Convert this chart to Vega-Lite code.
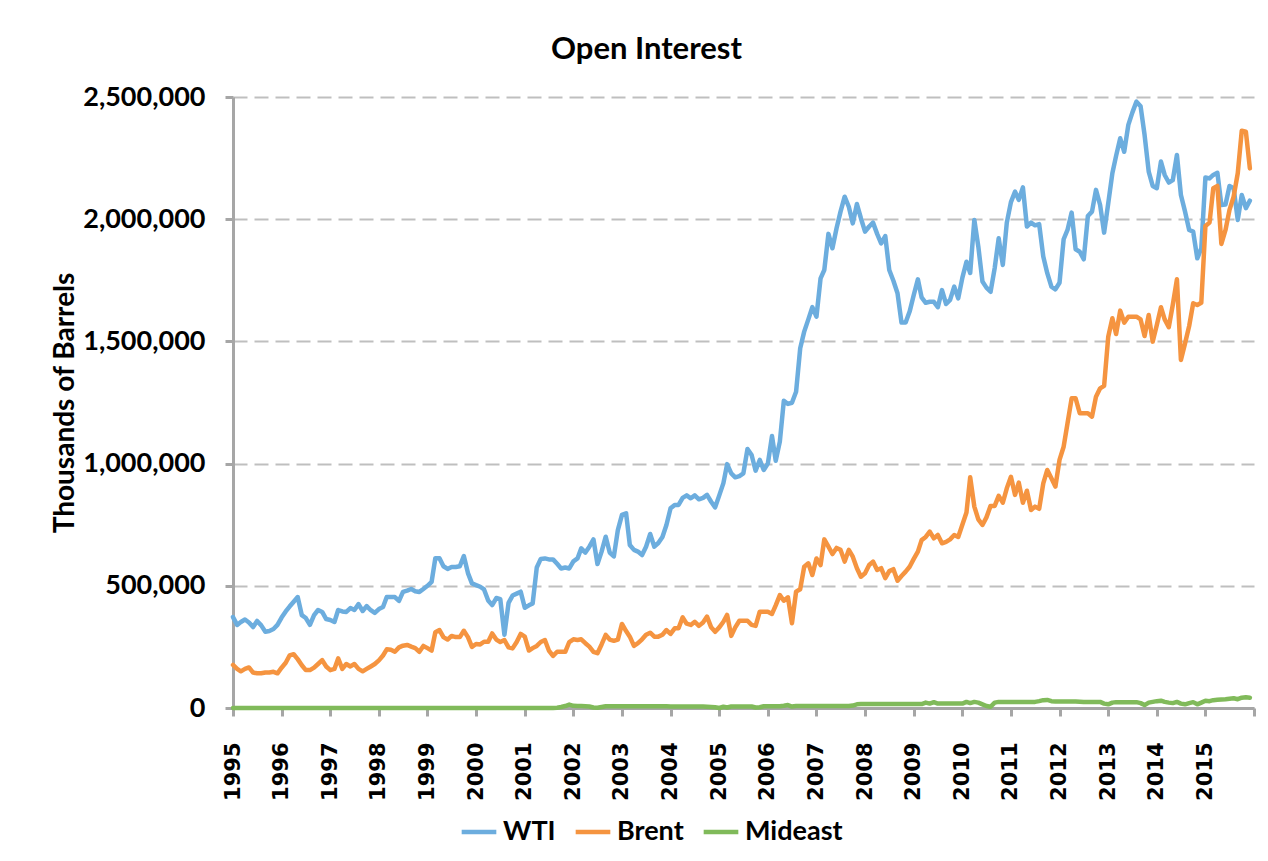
{
  "$schema": "https://vega.github.io/schema/vega-lite/v6.json",
  "width": 1021,
  "height": 611,
  "autosize": {"type": "none"},
  "padding": {"left": 233, "top": 97, "right": 14, "bottom": 153},
  "background": "white",
  "title": {"text": "Open Interest", "font": "Lato", "fontSize": 31, "fontWeight": "bold", "color": "black", "anchor": "middle", "dx": -97, "offset": 17},
  "data": {"values": [
{"d":"1995-01","WTI":372000,"Brent":176000,"Mideast":0},
{"d":"1995-02","WTI":340000,"Brent":160000,"Mideast":0},
{"d":"1995-03","WTI":352000,"Brent":150000,"Mideast":0},
{"d":"1995-04","WTI":362000,"Brent":160000,"Mideast":0},
{"d":"1995-05","WTI":350000,"Brent":166000,"Mideast":0},
{"d":"1995-06","WTI":331000,"Brent":145000,"Mideast":0},
{"d":"1995-07","WTI":356000,"Brent":142000,"Mideast":0},
{"d":"1995-08","WTI":338000,"Brent":142000,"Mideast":0},
{"d":"1995-09","WTI":312000,"Brent":145000,"Mideast":0},
{"d":"1995-10","WTI":315000,"Brent":145000,"Mideast":0},
{"d":"1995-11","WTI":323000,"Brent":148000,"Mideast":0},
{"d":"1995-12","WTI":340000,"Brent":142000,"Mideast":0},
{"d":"1996-01","WTI":370000,"Brent":165000,"Mideast":0},
{"d":"1996-02","WTI":395000,"Brent":185000,"Mideast":0},
{"d":"1996-03","WTI":415000,"Brent":215000,"Mideast":0},
{"d":"1996-04","WTI":435000,"Brent":220000,"Mideast":0},
{"d":"1996-05","WTI":454000,"Brent":200000,"Mideast":0},
{"d":"1996-06","WTI":380000,"Brent":175000,"Mideast":0},
{"d":"1996-07","WTI":368000,"Brent":155000,"Mideast":0},
{"d":"1996-08","WTI":340000,"Brent":155000,"Mideast":0},
{"d":"1996-09","WTI":380000,"Brent":165000,"Mideast":0},
{"d":"1996-10","WTI":401000,"Brent":180000,"Mideast":0},
{"d":"1996-11","WTI":393000,"Brent":196000,"Mideast":0},
{"d":"1996-12","WTI":364000,"Brent":170000,"Mideast":0},
{"d":"1997-01","WTI":360000,"Brent":155000,"Mideast":0},
{"d":"1997-02","WTI":352000,"Brent":160000,"Mideast":0},
{"d":"1997-03","WTI":401000,"Brent":203000,"Mideast":0},
{"d":"1997-04","WTI":395000,"Brent":160000,"Mideast":0},
{"d":"1997-05","WTI":393000,"Brent":180000,"Mideast":0},
{"d":"1997-06","WTI":409000,"Brent":170000,"Mideast":0},
{"d":"1997-07","WTI":401000,"Brent":180000,"Mideast":0},
{"d":"1997-08","WTI":425000,"Brent":160000,"Mideast":0},
{"d":"1997-09","WTI":397000,"Brent":150000,"Mideast":0},
{"d":"1997-10","WTI":417000,"Brent":160000,"Mideast":0},
{"d":"1997-11","WTI":400000,"Brent":170000,"Mideast":0},
{"d":"1997-12","WTI":389000,"Brent":180000,"Mideast":0},
{"d":"1998-01","WTI":405000,"Brent":195000,"Mideast":0},
{"d":"1998-02","WTI":413000,"Brent":215000,"Mideast":0},
{"d":"1998-03","WTI":454000,"Brent":240000,"Mideast":0},
{"d":"1998-04","WTI":454000,"Brent":238000,"Mideast":0},
{"d":"1998-05","WTI":454000,"Brent":230000,"Mideast":0},
{"d":"1998-06","WTI":438000,"Brent":248000,"Mideast":0},
{"d":"1998-07","WTI":475000,"Brent":255000,"Mideast":0},
{"d":"1998-08","WTI":480000,"Brent":258000,"Mideast":0},
{"d":"1998-09","WTI":487000,"Brent":251000,"Mideast":0},
{"d":"1998-10","WTI":478000,"Brent":245000,"Mideast":0},
{"d":"1998-11","WTI":475000,"Brent":230000,"Mideast":0},
{"d":"1998-12","WTI":487000,"Brent":254000,"Mideast":0},
{"d":"1999-01","WTI":500000,"Brent":245000,"Mideast":0},
{"d":"1999-02","WTI":516000,"Brent":235000,"Mideast":0},
{"d":"1999-03","WTI":613000,"Brent":310000,"Mideast":0},
{"d":"1999-04","WTI":613000,"Brent":319000,"Mideast":0},
{"d":"1999-05","WTI":580000,"Brent":290000,"Mideast":0},
{"d":"1999-06","WTI":569000,"Brent":280000,"Mideast":0},
{"d":"1999-07","WTI":577000,"Brent":295000,"Mideast":0},
{"d":"1999-08","WTI":577000,"Brent":290000,"Mideast":0},
{"d":"1999-09","WTI":580000,"Brent":290000,"Mideast":0},
{"d":"1999-10","WTI":622000,"Brent":316000,"Mideast":0},
{"d":"1999-11","WTI":552000,"Brent":290000,"Mideast":0},
{"d":"1999-12","WTI":510000,"Brent":250000,"Mideast":0},
{"d":"2000-01","WTI":503000,"Brent":262000,"Mideast":0},
{"d":"2000-02","WTI":496000,"Brent":260000,"Mideast":0},
{"d":"2000-03","WTI":485000,"Brent":271000,"Mideast":0},
{"d":"2000-04","WTI":440000,"Brent":271000,"Mideast":0},
{"d":"2000-05","WTI":421000,"Brent":305000,"Mideast":0},
{"d":"2000-06","WTI":450000,"Brent":280000,"Mideast":0},
{"d":"2000-07","WTI":445000,"Brent":270000,"Mideast":0},
{"d":"2000-08","WTI":300000,"Brent":278000,"Mideast":0},
{"d":"2000-09","WTI":430000,"Brent":248000,"Mideast":0},
{"d":"2000-10","WTI":460000,"Brent":244000,"Mideast":0},
{"d":"2000-11","WTI":468000,"Brent":270000,"Mideast":0},
{"d":"2000-12","WTI":476000,"Brent":303000,"Mideast":0},
{"d":"2001-01","WTI":410000,"Brent":292000,"Mideast":0},
{"d":"2001-02","WTI":420000,"Brent":235000,"Mideast":0},
{"d":"2001-03","WTI":428000,"Brent":245000,"Mideast":0},
{"d":"2001-04","WTI":575000,"Brent":254000,"Mideast":0},
{"d":"2001-05","WTI":610000,"Brent":270000,"Mideast":0},
{"d":"2001-06","WTI":612000,"Brent":278000,"Mideast":0},
{"d":"2001-07","WTI":608000,"Brent":235000,"Mideast":0},
{"d":"2001-08","WTI":608000,"Brent":213000,"Mideast":0},
{"d":"2001-09","WTI":590000,"Brent":230000,"Mideast":1000},
{"d":"2001-10","WTI":571000,"Brent":230000,"Mideast":4000},
{"d":"2001-11","WTI":575000,"Brent":230000,"Mideast":8000},
{"d":"2001-12","WTI":571000,"Brent":270000,"Mideast":14000},
{"d":"2002-01","WTI":600000,"Brent":281000,"Mideast":9000},
{"d":"2002-02","WTI":612000,"Brent":278000,"Mideast":8000},
{"d":"2002-03","WTI":653000,"Brent":281000,"Mideast":8000},
{"d":"2002-04","WTI":636000,"Brent":265000,"Mideast":7000},
{"d":"2002-05","WTI":660000,"Brent":251000,"Mideast":6000},
{"d":"2002-06","WTI":690000,"Brent":230000,"Mideast":2000},
{"d":"2002-07","WTI":589000,"Brent":224000,"Mideast":1000},
{"d":"2002-08","WTI":640000,"Brent":260000,"Mideast":4000},
{"d":"2002-09","WTI":701000,"Brent":299000,"Mideast":7000},
{"d":"2002-10","WTI":636000,"Brent":280000,"Mideast":7000},
{"d":"2002-11","WTI":620000,"Brent":275000,"Mideast":7000},
{"d":"2002-12","WTI":728000,"Brent":280000,"Mideast":7000},
{"d":"2003-01","WTI":790000,"Brent":344000,"Mideast":7000},
{"d":"2003-02","WTI":797000,"Brent":315000,"Mideast":7000},
{"d":"2003-03","WTI":667000,"Brent":292000,"Mideast":7000},
{"d":"2003-04","WTI":647000,"Brent":254000,"Mideast":7000},
{"d":"2003-05","WTI":640000,"Brent":265000,"Mideast":7000},
{"d":"2003-06","WTI":626000,"Brent":281000,"Mideast":7000},
{"d":"2003-07","WTI":660000,"Brent":300000,"Mideast":7000},
{"d":"2003-08","WTI":712000,"Brent":308000,"Mideast":7000},
{"d":"2003-09","WTI":660000,"Brent":292000,"Mideast":7000},
{"d":"2003-10","WTI":675000,"Brent":292000,"Mideast":7000},
{"d":"2003-11","WTI":700000,"Brent":300000,"Mideast":7000},
{"d":"2003-12","WTI":749000,"Brent":319000,"Mideast":7000},
{"d":"2004-01","WTI":817000,"Brent":303000,"Mideast":6000},
{"d":"2004-02","WTI":831000,"Brent":326000,"Mideast":6000},
{"d":"2004-03","WTI":831000,"Brent":326000,"Mideast":6000},
{"d":"2004-04","WTI":860000,"Brent":371000,"Mideast":6000},
{"d":"2004-05","WTI":870000,"Brent":345000,"Mideast":6000},
{"d":"2004-06","WTI":858000,"Brent":340000,"Mideast":6000},
{"d":"2004-07","WTI":870000,"Brent":353000,"Mideast":6000},
{"d":"2004-08","WTI":854000,"Brent":336000,"Mideast":6000},
{"d":"2004-09","WTI":860000,"Brent":350000,"Mideast":6000},
{"d":"2004-10","WTI":872000,"Brent":374000,"Mideast":5000},
{"d":"2004-11","WTI":844000,"Brent":330000,"Mideast":4000},
{"d":"2004-12","WTI":821000,"Brent":312000,"Mideast":3000},
{"d":"2005-01","WTI":870000,"Brent":330000,"Mideast":0},
{"d":"2005-02","WTI":920000,"Brent":353000,"Mideast":5000},
{"d":"2005-03","WTI":998000,"Brent":381000,"Mideast":2000},
{"d":"2005-04","WTI":960000,"Brent":295000,"Mideast":6000},
{"d":"2005-05","WTI":944000,"Brent":330000,"Mideast":6000},
{"d":"2005-06","WTI":949000,"Brent":357000,"Mideast":6000},
{"d":"2005-07","WTI":960000,"Brent":357000,"Mideast":6000},
{"d":"2005-08","WTI":1060000,"Brent":357000,"Mideast":6000},
{"d":"2005-09","WTI":1035000,"Brent":340000,"Mideast":6000},
{"d":"2005-10","WTI":971000,"Brent":336000,"Mideast":2000},
{"d":"2005-11","WTI":1015000,"Brent":394000,"Mideast":3000},
{"d":"2005-12","WTI":974000,"Brent":394000,"Mideast":7000},
{"d":"2006-01","WTI":1000000,"Brent":394000,"Mideast":7000},
{"d":"2006-02","WTI":1113000,"Brent":385000,"Mideast":7000},
{"d":"2006-03","WTI":1012000,"Brent":420000,"Mideast":7000},
{"d":"2006-04","WTI":1090000,"Brent":462000,"Mideast":7000},
{"d":"2006-05","WTI":1257000,"Brent":439000,"Mideast":9000},
{"d":"2006-06","WTI":1244000,"Brent":453000,"Mideast":12000},
{"d":"2006-07","WTI":1249000,"Brent":347000,"Mideast":6000},
{"d":"2006-08","WTI":1294000,"Brent":476000,"Mideast":8000},
{"d":"2006-09","WTI":1472000,"Brent":486000,"Mideast":8000},
{"d":"2006-10","WTI":1540000,"Brent":578000,"Mideast":8000},
{"d":"2006-11","WTI":1590000,"Brent":592000,"Mideast":8000},
{"d":"2006-12","WTI":1640000,"Brent":544000,"Mideast":8000},
{"d":"2007-01","WTI":1601000,"Brent":612000,"Mideast":8000},
{"d":"2007-02","WTI":1758000,"Brent":585000,"Mideast":8000},
{"d":"2007-03","WTI":1792000,"Brent":690000,"Mideast":8000},
{"d":"2007-04","WTI":1940000,"Brent":660000,"Mideast":8000},
{"d":"2007-05","WTI":1881000,"Brent":630000,"Mideast":8000},
{"d":"2007-06","WTI":1963000,"Brent":655000,"Mideast":8000},
{"d":"2007-07","WTI":2031000,"Brent":647000,"Mideast":8000},
{"d":"2007-08","WTI":2092000,"Brent":599000,"Mideast":8000},
{"d":"2007-09","WTI":2051000,"Brent":647000,"Mideast":8000},
{"d":"2007-10","WTI":1983000,"Brent":619000,"Mideast":10000},
{"d":"2007-11","WTI":2062000,"Brent":572000,"Mideast":15000},
{"d":"2007-12","WTI":2004000,"Brent":537000,"Mideast":16000},
{"d":"2008-01","WTI":1949000,"Brent":551000,"Mideast":16000},
{"d":"2008-02","WTI":1970000,"Brent":585000,"Mideast":16000},
{"d":"2008-03","WTI":1986000,"Brent":599000,"Mideast":16000},
{"d":"2008-04","WTI":1940000,"Brent":565000,"Mideast":16000},
{"d":"2008-05","WTI":1901000,"Brent":572000,"Mideast":16000},
{"d":"2008-06","WTI":1931000,"Brent":531000,"Mideast":16000},
{"d":"2008-07","WTI":1792000,"Brent":560000,"Mideast":16000},
{"d":"2008-08","WTI":1748000,"Brent":568000,"Mideast":16000},
{"d":"2008-09","WTI":1697000,"Brent":521000,"Mideast":16000},
{"d":"2008-10","WTI":1577000,"Brent":540000,"Mideast":16000},
{"d":"2008-11","WTI":1577000,"Brent":558000,"Mideast":16000},
{"d":"2008-12","WTI":1622000,"Brent":578000,"Mideast":16000},
{"d":"2009-01","WTI":1690000,"Brent":610000,"Mideast":16000},
{"d":"2009-02","WTI":1754000,"Brent":640000,"Mideast":16000},
{"d":"2009-03","WTI":1680000,"Brent":687000,"Mideast":16000},
{"d":"2009-04","WTI":1658000,"Brent":700000,"Mideast":22000},
{"d":"2009-05","WTI":1662000,"Brent":722000,"Mideast":18000},
{"d":"2009-06","WTI":1662000,"Brent":694000,"Mideast":24000},
{"d":"2009-07","WTI":1640000,"Brent":708000,"Mideast":18000},
{"d":"2009-08","WTI":1710000,"Brent":674000,"Mideast":18000},
{"d":"2009-09","WTI":1653000,"Brent":680000,"Mideast":18000},
{"d":"2009-10","WTI":1670000,"Brent":690000,"Mideast":18000},
{"d":"2009-11","WTI":1724000,"Brent":708000,"Mideast":18000},
{"d":"2009-12","WTI":1676000,"Brent":700000,"Mideast":18000},
{"d":"2010-01","WTI":1760000,"Brent":750000,"Mideast":18000},
{"d":"2010-02","WTI":1826000,"Brent":800000,"Mideast":25000},
{"d":"2010-03","WTI":1780000,"Brent":944000,"Mideast":20000},
{"d":"2010-04","WTI":1997000,"Brent":824000,"Mideast":25000},
{"d":"2010-05","WTI":1888000,"Brent":772000,"Mideast":22000},
{"d":"2010-06","WTI":1745000,"Brent":749000,"Mideast":15000},
{"d":"2010-07","WTI":1720000,"Brent":780000,"Mideast":8000},
{"d":"2010-08","WTI":1703000,"Brent":827000,"Mideast":5000},
{"d":"2010-09","WTI":1800000,"Brent":827000,"Mideast":22000},
{"d":"2010-10","WTI":1922000,"Brent":868000,"Mideast":25000},
{"d":"2010-11","WTI":1813000,"Brent":840000,"Mideast":25000},
{"d":"2010-12","WTI":1986000,"Brent":899000,"Mideast":25000},
{"d":"2011-01","WTI":2070000,"Brent":946000,"Mideast":25000},
{"d":"2011-02","WTI":2113000,"Brent":872000,"Mideast":25000},
{"d":"2011-03","WTI":2079000,"Brent":922000,"Mideast":25000},
{"d":"2011-04","WTI":2130000,"Brent":840000,"Mideast":25000},
{"d":"2011-05","WTI":1970000,"Brent":889000,"Mideast":25000},
{"d":"2011-06","WTI":1986000,"Brent":810000,"Mideast":25000},
{"d":"2011-07","WTI":1975000,"Brent":824000,"Mideast":25000},
{"d":"2011-08","WTI":1980000,"Brent":815000,"Mideast":28000},
{"d":"2011-09","WTI":1847000,"Brent":919000,"Mideast":32000},
{"d":"2011-10","WTI":1779000,"Brent":974000,"Mideast":33000},
{"d":"2011-11","WTI":1724000,"Brent":940000,"Mideast":28000},
{"d":"2011-12","WTI":1713000,"Brent":906000,"Mideast":27000},
{"d":"2012-01","WTI":1740000,"Brent":1015000,"Mideast":27000},
{"d":"2012-02","WTI":1918000,"Brent":1069000,"Mideast":27000},
{"d":"2012-03","WTI":1956000,"Brent":1165000,"Mideast":27000},
{"d":"2012-04","WTI":2027000,"Brent":1267000,"Mideast":27000},
{"d":"2012-05","WTI":1877000,"Brent":1267000,"Mideast":27000},
{"d":"2012-06","WTI":1867000,"Brent":1206000,"Mideast":26000},
{"d":"2012-07","WTI":1836000,"Brent":1206000,"Mideast":25000},
{"d":"2012-08","WTI":2013000,"Brent":1206000,"Mideast":25000},
{"d":"2012-09","WTI":2031000,"Brent":1192000,"Mideast":25000},
{"d":"2012-10","WTI":2120000,"Brent":1274000,"Mideast":25000},
{"d":"2012-11","WTI":2058000,"Brent":1308000,"Mideast":25000},
{"d":"2012-12","WTI":1945000,"Brent":1318000,"Mideast":18000},
{"d":"2013-01","WTI":2065000,"Brent":1519000,"Mideast":15000},
{"d":"2013-02","WTI":2188000,"Brent":1595000,"Mideast":22000},
{"d":"2013-03","WTI":2259000,"Brent":1530000,"Mideast":24000},
{"d":"2013-04","WTI":2331000,"Brent":1626000,"Mideast":24000},
{"d":"2013-05","WTI":2276000,"Brent":1577000,"Mideast":24000},
{"d":"2013-06","WTI":2386000,"Brent":1601000,"Mideast":24000},
{"d":"2013-07","WTI":2436000,"Brent":1601000,"Mideast":24000},
{"d":"2013-08","WTI":2481000,"Brent":1601000,"Mideast":24000},
{"d":"2013-09","WTI":2462000,"Brent":1590000,"Mideast":20000},
{"d":"2013-10","WTI":2345000,"Brent":1522000,"Mideast":12000},
{"d":"2013-11","WTI":2195000,"Brent":1608000,"Mideast":22000},
{"d":"2013-12","WTI":2136000,"Brent":1499000,"Mideast":25000},
{"d":"2014-01","WTI":2127000,"Brent":1567000,"Mideast":28000},
{"d":"2014-02","WTI":2236000,"Brent":1640000,"Mideast":30000},
{"d":"2014-03","WTI":2181000,"Brent":1590000,"Mideast":25000},
{"d":"2014-04","WTI":2150000,"Brent":1558000,"Mideast":22000},
{"d":"2014-05","WTI":2160000,"Brent":1650000,"Mideast":20000},
{"d":"2014-06","WTI":2263000,"Brent":1754000,"Mideast":25000},
{"d":"2014-07","WTI":2099000,"Brent":1424000,"Mideast":18000},
{"d":"2014-08","WTI":2031000,"Brent":1492000,"Mideast":15000},
{"d":"2014-09","WTI":1956000,"Brent":1563000,"Mideast":20000},
{"d":"2014-10","WTI":1949000,"Brent":1656000,"Mideast":24000},
{"d":"2014-11","WTI":1840000,"Brent":1649000,"Mideast":15000},
{"d":"2014-12","WTI":1881000,"Brent":1658000,"Mideast":22000},
{"d":"2015-01","WTI":2171000,"Brent":1972000,"Mideast":30000},
{"d":"2015-02","WTI":2167000,"Brent":1986000,"Mideast":28000},
{"d":"2015-03","WTI":2181000,"Brent":2127000,"Mideast":32000},
{"d":"2015-04","WTI":2190000,"Brent":2136000,"Mideast":34000},
{"d":"2015-05","WTI":2058000,"Brent":1899000,"Mideast":35000},
{"d":"2015-06","WTI":2060000,"Brent":1956000,"Mideast":36000},
{"d":"2015-07","WTI":2136000,"Brent":2038000,"Mideast":38000},
{"d":"2015-08","WTI":2127000,"Brent":2092000,"Mideast":40000},
{"d":"2015-09","WTI":1997000,"Brent":2188000,"Mideast":36000},
{"d":"2015-10","WTI":2099000,"Brent":2362000,"Mideast":42000},
{"d":"2015-11","WTI":2045000,"Brent":2358000,"Mideast":44000},
{"d":"2015-12","WTI":2076000,"Brent":2208000,"Mideast":42000}
  ]},
  "transform": [{"fold": ["WTI", "Brent", "Mideast"], "as": ["series", "value"]}],
  "mark": {"type": "line", "strokeWidth": 4.5, "strokeJoin": "round", "strokeCap": "round"},
  "encoding": {
    "x": {
      "field": "d", "type": "temporal",
      "scale": {"domain": ["1995-01-01", "2016-01-01"]},
      "axis": {
        "title": null,
        "values": [{"year":1995},{"year":1996},{"year":1997},{"year":1998},{"year":1999},{"year":2000},{"year":2001},{"year":2002},{"year":2003},{"year":2004},{"year":2005},{"year":2006},{"year":2007},{"year":2008},{"year":2009},{"year":2010},{"year":2011},{"year":2012},{"year":2013},{"year":2014},{"year":2015},{"year":2016}],
        "labelExpr": "year(datum.value) >= 2016 ? '' : timeFormat(datum.value, '%Y')",
        "labelAngle": 270,
        "labelFont": "DejaVu Sans", "labelFontSize": 21, "labelFontWeight": "bold", "labelColor": "black",
        "labelPadding": 26, "labelFlush": false, "labelOverlap": false,
        "tickSize": 8, "tickWidth": 3, "tickColor": "#A6A6A6",
        "domainColor": "#A6A6A6", "domainWidth": 3,
        "grid": false
      }
    },
    "y": {
      "field": "value", "type": "quantitative",
      "scale": {"domain": [0, 2500000], "nice": false},
      "axis": {
        "title": "Thousands of Barrels",
        "titleFont": "Lato", "titleFontSize": 28, "titleFontWeight": "bold", "titleColor": "black", "titlePadding": 3,
        "values": [0, 500000, 1000000, 1500000, 2000000, 2500000],
        "format": ",.0f",
        "labelFont": "Lato", "labelFontSize": 27, "labelFontWeight": "bold", "labelColor": "black",
        "labelPadding": 20,
        "tickSize": 8, "tickWidth": 3, "tickColor": "#A6A6A6",
        "domainColor": "#A6A6A6", "domainWidth": 3,
        "grid": true, "gridColor": "#BFBFBF", "gridDash": [14, 7], "gridWidth": 2
      }
    },
    "color": {
      "field": "series", "type": "nominal",
      "scale": {"domain": ["WTI", "Brent", "Mideast"], "range": ["#6CADDE", "#F59440", "#80BA5A"]},
      "legend": {
        "title": null, "orient": "none", "direction": "horizontal",
        "legendX": 226, "legendY": 715,
        "symbolType": "stroke", "symbolSize": 1200, "symbolStrokeWidth": 4.5,
        "labelFont": "Lato", "labelFontSize": 27, "labelFontWeight": "bold", "labelColor": "black",
        "labelOffset": 4, "columnPadding": 10
      }
    }
  },
  "config": {"view": {"stroke": null}}
}
